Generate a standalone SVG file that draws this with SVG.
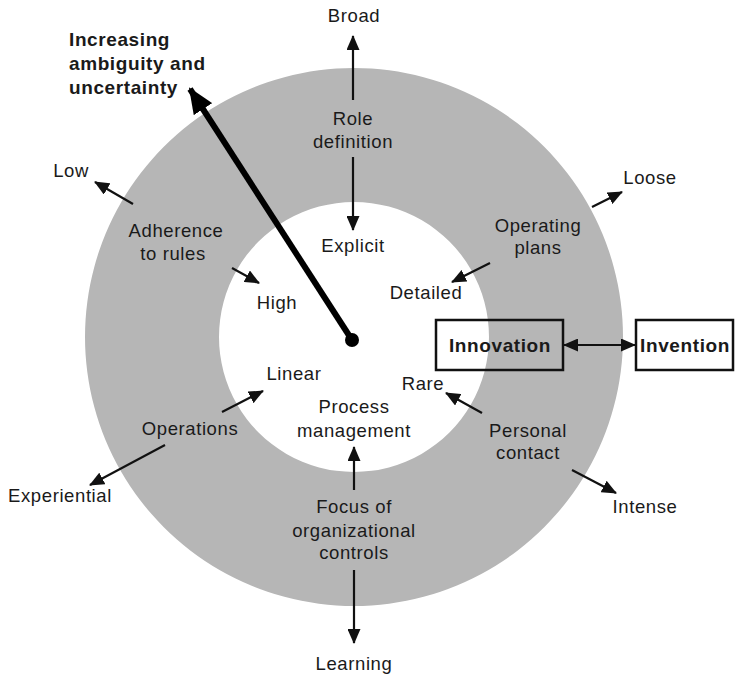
<svg xmlns="http://www.w3.org/2000/svg" width="735" height="678" viewBox="0 0 735 678">
  <style>
    text { font-family: "Liberation Sans", Arial, sans-serif; font-size: 18.5px; fill: #1a1a1a; letter-spacing: 0.6px; }
    .c { text-anchor: middle; }
    .b { font-weight: bold; font-size: 19px; }
    .ln { stroke: #111; stroke-width: 2.2; fill: none; marker-end: url(#ah); }
    .box { fill: none; stroke: #111; stroke-width: 2.5; }
  </style>
  <defs>
    <marker id="ah" markerUnits="userSpaceOnUse" markerWidth="15" markerHeight="13" refX="14" refY="6.5" orient="auto-start-reverse">
      <path d="M0,0 L15,6.5 L0,13 z" fill="#111"/>
    </marker>
    <marker id="big" markerUnits="userSpaceOnUse" markerWidth="26" markerHeight="22" refX="24" refY="11" orient="auto">
      <path d="M0,0 L26,11 L0,22 z" fill="#000"/>
    </marker>
  </defs>

  <!-- ring -->
  <g id="ring">
    <path d="M354,68 a269,269 0 1,0 0.01,0 z M354,202 a135,135 0 1,1 -0.01,0 z" fill="#b6b6b6" fill-rule="evenodd"/>
  </g>

  <!-- connectors -->
  <g id="connectors">
    <line class="ln" x1="353" y1="100" x2="353" y2="36"/>
    <line class="ln" x1="353" y1="157" x2="353" y2="230"/>
    <line class="ln" x1="592" y1="207" x2="622" y2="192"/>
    <line class="ln" x1="490" y1="263" x2="452" y2="282"/>
    <line class="ln" x1="133" y1="204" x2="95" y2="182"/>
    <line class="ln" x1="232" y1="268" x2="259" y2="283"/>
    <line class="ln" x1="222" y1="412" x2="263" y2="391"/>
    <line class="ln" x1="165" y1="445" x2="90" y2="485"/>
    <line class="ln" x1="354" y1="490" x2="354" y2="447"/>
    <line class="ln" x1="354" y1="570" x2="354" y2="643"/>
    <line class="ln" x1="482" y1="413" x2="446" y2="393"/>
    <line class="ln" x1="572" y1="470" x2="616" y2="493"/>
    <line class="ln" x1="564" y1="345" x2="635" y2="345" style="marker-start:url(#ah)"/>
    <line x1="352" y1="340" x2="190" y2="89" stroke="#000" stroke-width="6" marker-end="url(#big)"/>
    <circle cx="352" cy="340" r="7" fill="#000"/>
  </g>

  <g id="ambiguity">
    <text class="b" x="69" y="46">Increasing</text>
    <text class="b" x="69" y="70">ambiguity and</text>
    <text class="b" x="69" y="94">uncertainty</text>
  </g>

  <g id="role-definition">
    <text class="c" x="354" y="22">Broad</text>
    <text class="c" x="353" y="125">Role</text>
    <text class="c" x="353" y="148">definition</text>
    <text class="c" x="353" y="252">Explicit</text>
  </g>

  <g id="operating-plans">
    <text class="c" x="650" y="184">Loose</text>
    <text class="c" x="538" y="232">Operating</text>
    <text class="c" x="538" y="254">plans</text>
    <text class="c" x="426" y="299">Detailed</text>
  </g>

  <g id="adherence">
    <text class="c" x="71" y="177">Low</text>
    <text class="c" x="176" y="237">Adherence</text>
    <text class="c" x="173" y="260">to rules</text>
    <text class="c" x="277" y="309">High</text>
  </g>

  <g id="operations">
    <text class="c" x="294" y="380">Linear</text>
    <text class="c" x="190" y="435">Operations</text>
    <text class="c" x="60" y="502">Experiential</text>
  </g>

  <g id="controls">
    <text class="c" x="354" y="413">Process</text>
    <text class="c" x="354" y="437">management</text>
    <text class="c" x="354" y="513">Focus of</text>
    <text class="c" x="354" y="537">organizational</text>
    <text class="c" x="354" y="559">controls</text>
    <text class="c" x="354" y="670">Learning</text>
  </g>

  <g id="personal-contact">
    <text class="c" x="423" y="390">Rare</text>
    <text class="c" x="528" y="437">Personal</text>
    <text class="c" x="528" y="459">contact</text>
    <text class="c" x="645" y="513">Intense</text>
  </g>

  <g id="innovation">
    <rect class="box" x="436" y="320" width="127" height="50"/>
    <text class="c b" x="500" y="352">Innovation</text>
  </g>

  <g id="invention">
    <rect class="box" x="636" y="320" width="97" height="50"/>
    <text class="c b" x="685" y="352">Invention</text>
  </g>
</svg>
